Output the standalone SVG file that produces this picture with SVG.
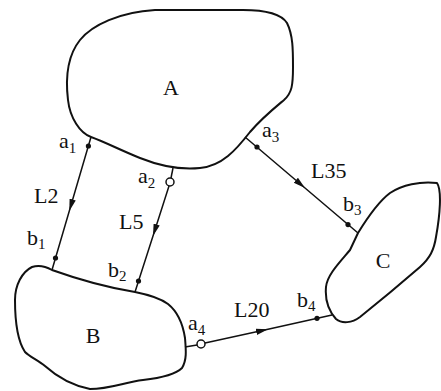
<svg xmlns="http://www.w3.org/2000/svg" width="441" height="391" viewBox="0 0 441 391">
<style>
.blob{fill:none;stroke:#111;stroke-width:2;stroke-linejoin:round}
.conn{fill:none;stroke:#111;stroke-width:1.5}
.dot{fill:#111}
.open{fill:#fff;stroke:#111;stroke-width:1.5}
text{font-family:"Liberation Serif","Times New Roman",serif;font-size:22px;fill:#111}
.sub{font-size:15px}
</style>
<defs>
<marker id="arr" markerUnits="userSpaceOnUse" markerWidth="14" markerHeight="10" viewBox="-12 -5 14 10" refX="0" refY="0" orient="auto">
<path d="M0,0 L-12,-3.2 L-12,3.2 Z" fill="#111"/>
</marker>
</defs>
<rect width="441" height="391" fill="#fff"/>
<g id="nodeA">
<path class="blob" d="M91,137 C80,133 70,118 68,100 C65,75 68,55 80,40 C92,25 120,12 155,10 L243,10 C260,10 280,12 287,23 C293,35 293,50 293,67 C293,85 292,93 284,100 C272,110 262,118 250,132 C236,150 222,166 200,168 C180,170 160,166 140,158 C120,150 105,142 91,137 Z"/>
<text x="171" y="95" text-anchor="middle">A</text>
</g>
<g id="nodeB">
<path class="blob" d="M52,270 C45,266 38,265 32,267 C22,272 15,285 15,300 C15,318 17,340 25,352 C30,357 38,360 45,366 C55,375 70,385 90,389 C110,389 125,382 143,380 C160,378 175,375 182,368 C187,360 186,350 185,338 C183,325 178,312 168,304 C160,298 150,295 135,292 C110,288 80,280 52,270 Z"/>
<text x="93" y="343" text-anchor="middle">B</text>
</g>
<g id="nodeC">
<path class="blob" d="M358,233 C366,220 378,202 390,193 C402,185 420,181 437,183 C442,190 440,215 436,237 C434,250 430,258 420,267 C405,280 385,297 360,317 C352,323 342,324 336,319 C328,310 325,298 326,287 C327,275 340,262 350,250 Z"/>
<text x="383" y="268" text-anchor="middle">C</text>
</g>
<g id="connectors">
<path class="conn" marker-mid="url(#arr)" d="M91,137 L69.3,211 L52,270"/>
<path class="conn" d="M173,168 L171,178"/>
<path class="conn" marker-mid="url(#arr)" d="M169,186 L153,236 L135,292"/>
<path class="conn" marker-mid="url(#arr)" d="M245,137 L305,188 L358,233"/>
<path class="conn" d="M185,347 L197,345"/>
<path class="conn" marker-mid="url(#arr)" d="M205,343 L268,329.2 L332,315"/>
<circle class="dot" cx="88.4" cy="146" r="2.6"/>
<circle class="dot" cx="55.5" cy="258" r="2.6"/>
<circle class="open" cx="170" cy="182" r="4"/>
<circle class="dot" cx="138.5" cy="281" r="2.6"/>
<circle class="dot" cx="257" cy="147" r="2.6"/>
<circle class="dot" cx="348" cy="224.6" r="2.6"/>
<circle class="open" cx="201" cy="344" r="4"/>
<circle class="dot" cx="317" cy="318.3" r="2.6"/>
</g>
<g id="labels">
<text x="59" y="148">a<tspan class="sub" dy="5">1</tspan></text>
<text x="138" y="183">a<tspan class="sub" dy="5">2</tspan></text>
<text x="262" y="137">a<tspan class="sub" dy="5">3</tspan></text>
<text x="188" y="330">a<tspan class="sub" dy="5">4</tspan></text>
<text x="27" y="245">b<tspan class="sub" dy="4">1</tspan></text>
<text x="108" y="277">b<tspan class="sub" dy="4">2</tspan></text>
<text x="343" y="211">b<tspan class="sub" dy="4">3</tspan></text>
<text x="297" y="307">b<tspan class="sub" dy="4">4</tspan></text>
<text x="34" y="203">L2</text>
<text x="119" y="229">L5</text>
<text x="311" y="178">L35</text>
<text x="234" y="317">L20</text>
</g>
</svg>
